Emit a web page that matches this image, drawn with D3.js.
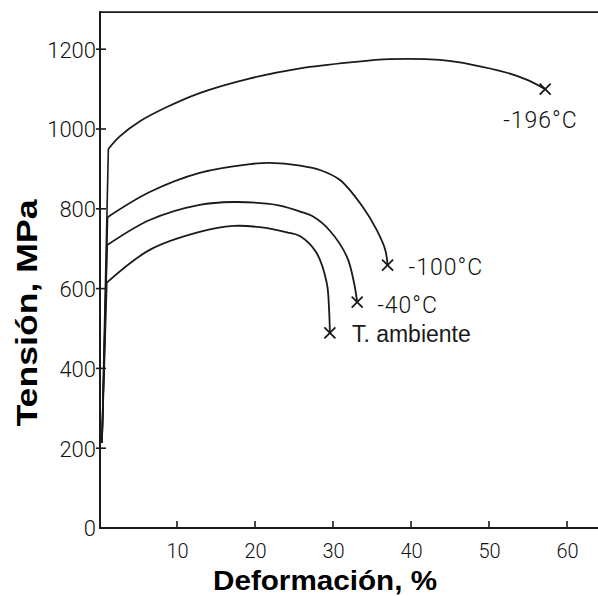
<!DOCTYPE html>
<html>
<head>
<meta charset="utf-8">
<script src="https://cdn.jsdelivr.net/npm/d3@7"></script>
<style>
  html, body { margin: 0; padding: 0; background: #ffffff; }
  svg { display: block; }
  .hand { font-family: "Roboto", "Liberation Sans", sans-serif; font-weight: 300; fill: #111111; }
</style>
</head>
<body>
<svg id="chart" width="598" height="596"></svg>
<script>
// ---- data ----
const xTicks = [10, 20, 30, 40, 50, 60];
const yTicks = [0, 200, 400, 600, 800, 1000, 1200];

const seriesNames = ["-196°C", "-100°C", "-40°C", "T. ambiente"];

// elastic (initial) segment start, shared by all curves
const elasticStrain = 0.38;
const elasticStress = 213;

const strain196 = [1.2, 2.7, 5.3, 8.7, 12.9, 19.4, 25.8, 32.2, 37.3, 43.7, 47.9, 52.3, 54.9, 57.2];
const stress196 = [950, 982, 1020, 1055, 1090, 1127, 1152, 1167, 1175, 1173, 1161, 1141, 1123, 1100];

const strain100 = [1.1, 6.5, 12.9, 19.4, 21.9, 25.8, 28.5, 30.9, 33.8, 35.6, 36.7, 37.0];
const stress100 = [779, 842, 890, 912, 915, 908, 896, 872, 805, 747, 697, 659];

const strain40 = [1.05, 6.5, 12.9, 17.2, 21.5, 23.2, 25.8, 27.5, 29.6, 31.8, 32.7, 33.1];
const stress40 = [709, 772, 810, 817, 813, 808, 793, 780, 745, 679, 614, 566];

const strainAmb = [1.0, 6.5, 12.9, 17.2, 20.6, 24.1, 25.8, 27.9, 29.2, 29.5, 29.6];
const stressAmb = [615, 697, 742, 757, 754, 741, 731, 689, 614, 546, 489];

// ---- chart ----
const svg = d3.select("#chart");
const x = d3.scaleLinear().domain([0, 64]).range([99, 598.2]);
const y = d3.scaleLinear().domain([0, 1300]).range([528, 9.3]);
const ink = "#1a1a1a";

// axes frame: left, bottom, top
svg.append("line").attr("x1", x(0) + 1).attr("x2", x(0) + 1).attr("y1", y(1295)).attr("y2", y(0))
  .attr("stroke", ink).attr("stroke-width", 2);
svg.append("line").attr("x1", x(0)).attr("x2", 598).attr("y1", y(0)).attr("y2", y(0))
  .attr("stroke", ink).attr("stroke-width", 1.8);
svg.append("line").attr("x1", x(0)).attr("x2", 598).attr("y1", y(1293)).attr("y2", y(1293))
  .attr("stroke", ink).attr("stroke-width", 1.8);

// y ticks and labels
const yAxis = d3.axisLeft(y).tickValues(yTicks).tickSize(0).tickFormat(d3.format("d"));
const gy = svg.append("g").attr("transform", `translate(${x(0) - 2},0)`).call(yAxis);
gy.select(".domain").remove();
gy.selectAll("text").attr("class", "hand").attr("font-size", 22).attr("x", -1)
  .attr("dy", "0.36em");
svg.selectAll(".ytick").data(yTicks.filter(d => d > 0)).enter().append("line")
  .attr("x1", x(0) - 3).attr("x2", x(0) + 7).attr("y1", d => y(d)).attr("y2", d => y(d))
  .attr("stroke", ink).attr("stroke-width", 1.6);

// x ticks and labels
const xAxis = d3.axisBottom(x).tickValues(xTicks).tickSize(0);
const gx = svg.append("g").attr("transform", `translate(0,${y(0)})`).call(xAxis);
gx.select(".domain").remove();
gx.selectAll("text").attr("class", "hand").attr("font-size", 20).attr("y", 30).attr("dy", 0);
svg.selectAll(".xtick").data(xTicks).enter().append("line")
  .attr("x1", d => x(d)).attr("x2", d => x(d)).attr("y1", y(0)).attr("y2", y(0) - 7)
  .attr("stroke", ink).attr("stroke-width", 1.6);

// curves
const strains = [strain196, strain100, strain40, strainAmb];
const stresses = [stress196, stress100, stress40, stressAmb];
const labelOffsets = [[-42, 39], [21, 10], [20, 11], [22, 9]];

const lineLin = d3.line().x(d => x(d[0])).y(d => y(d[1]));
const lineCurve = d3.line().x(d => x(d[0])).y(d => y(d[1])).curve(d3.curveCatmullRom.alpha(0.5));

strains.forEach((sArr, i) => {
  const pts = sArr.map((s, j) => [s, stresses[i][j]]);
  // elastic segment
  svg.append("path").attr("d", lineLin([[elasticStrain, elasticStress], pts[0]]))
    .attr("fill", "none").attr("stroke", ink).attr("stroke-width", 1.6);
  // plastic part
  svg.append("path").attr("d", lineCurve(pts))
    .attr("fill", "none").attr("stroke", ink).attr("stroke-width", 1.8)
    .attr("stroke-linejoin", "round");
  // fracture mark ×
  const end = pts[pts.length - 1];
  const ex = x(end[0]), ey = y(end[1]);
  const h = 5.5;
  svg.append("path").attr("d", `M${ex - h},${ey - h}L${ex + h},${ey + h}M${ex + h},${ey - h}L${ex - h},${ey + h}`)
    .attr("stroke", ink).attr("stroke-width", 1.8).attr("fill", "none");
  // label
  const isAmb = i === 3;
  svg.append("text")
    .attr("class", isAmb ? null : "hand")
    .attr("x", ex + labelOffsets[i][0]).attr("y", ey + labelOffsets[i][1])
    .attr("font-family", isAmb ? "Liberation Sans, Arial, sans-serif" : null)
    .attr("fill", ink)
    .attr("font-size", 23)
    .attr("letter-spacing", isAmb ? 0 : 1)
    .text(seriesNames[i]);
});

// axis titles
svg.append("text")
  .attr("transform", `translate(37,313) rotate(-90)`)
  .attr("text-anchor", "middle")
  .attr("font-family", "Liberation Sans, Arial, sans-serif")
  .attr("font-weight", "bold").attr("font-size", 30).attr("fill", "#000")
  .attr("textLength", 227).attr("lengthAdjust", "spacingAndGlyphs")
  .text("Tensión, MPa");

svg.append("text")
  .attr("x", 325).attr("y", 590)
  .attr("text-anchor", "middle")
  .attr("font-family", "Liberation Sans, Arial, sans-serif")
  .attr("font-weight", "bold").attr("font-size", 28).attr("fill", "#000")
  .attr("textLength", 224).attr("lengthAdjust", "spacingAndGlyphs")
  .text("Deformación, %");
</script>
</body>
</html>
